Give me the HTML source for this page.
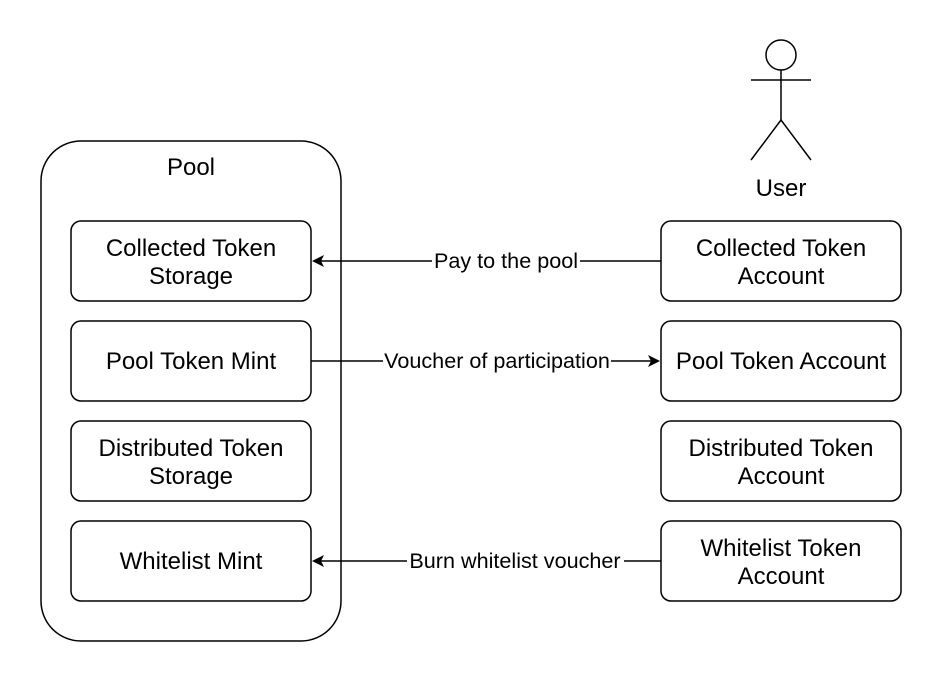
<!DOCTYPE html>
<html><head><meta charset="utf-8"><style>
html,body{margin:0;padding:0;background:#fff;}
svg{display:block;}
text{font-family:"Liberation Sans",Arial,sans-serif;fill:#000;}
</style></head><body>
<svg width="942" height="682" viewBox="0 0 942 682" xmlns="http://www.w3.org/2000/svg">
<defs><marker id="a" markerWidth="12" markerHeight="12" refX="10" refY="6" orient="auto" markerUnits="userSpaceOnUse"><path d="M0,0 L12,6 L0,12 L3,6 Z" fill="#000"/></marker></defs>
<g fill="#fff" stroke="#000" stroke-width="1.5">
<rect x="41" y="141" width="300" height="500" rx="40"/>
<rect x="71" y="221" width="240" height="80" rx="10"/>
<rect x="71" y="321" width="240" height="80" rx="10"/>
<rect x="71" y="421" width="240" height="80" rx="10"/>
<rect x="71" y="521" width="240" height="80" rx="10"/>
<rect x="661" y="221" width="240" height="80" rx="10"/>
<rect x="661" y="321" width="240" height="80" rx="10"/>
<rect x="661" y="421" width="240" height="80" rx="10"/>
<rect x="661" y="521" width="240" height="80" rx="10"/>
<circle cx="781" cy="55" r="15"/>
<line x1="781" y1="70" x2="781" y2="120"/>
<line x1="751" y1="80" x2="811" y2="80"/>
<line x1="781" y1="120" x2="751" y2="160"/>
<line x1="781" y1="120" x2="811" y2="160"/>
<line x1="661" y1="261" x2="314" y2="261" marker-end="url(#a)"/>
<line x1="311" y1="361" x2="658" y2="361" marker-end="url(#a)"/>
<line x1="661" y1="561" x2="314" y2="561" marker-end="url(#a)"/>
</g>
<g fill="#fff">
<rect x="432" y="250" width="148" height="22"/>
<rect x="383" y="350" width="228" height="22"/>
<rect x="407" y="550" width="217" height="22"/>
</g>
<g font-size="24" text-anchor="middle">
<text x="191" y="175">Pool</text>
<text x="781" y="196">User</text>
<text x="191" y="256">Collected Token</text><text x="191" y="284">Storage</text>
<text x="191" y="369">Pool Token Mint</text>
<text x="191" y="456">Distributed Token</text><text x="191" y="484">Storage</text>
<text x="191" y="569">Whitelist Mint</text>
<text x="781" y="256">Collected Token</text><text x="781" y="284">Account</text>
<text x="781" y="369">Pool Token Account</text>
<text x="781" y="456">Distributed Token</text><text x="781" y="484">Account</text>
<text x="781" y="556">Whitelist Token</text><text x="781" y="584">Account</text>
</g>
<g font-size="21.6" text-anchor="middle">
<text x="506" y="268">Pay to the pool</text>
<text x="497" y="368">Voucher of participation</text>
<text x="515" y="568">Burn whitelist voucher</text>
</g>
</svg>
</body></html>
